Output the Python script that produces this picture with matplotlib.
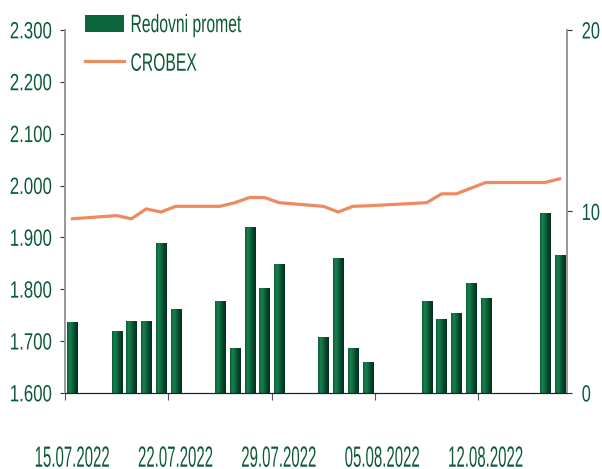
import matplotlib
matplotlib.use('Agg')
import matplotlib.pyplot as plt
import matplotlib.dates as mdates
from matplotlib.colors import LinearSegmentedColormap
from matplotlib.patheffects import AbstractPathEffect
from matplotlib.transforms import Affine2D
import numpy as np
import pandas as pd

plt.rcParams['font.family'] = ['Liberation Sans', 'DejaVu Sans']

dates = ['2022-07-15', '2022-07-18', '2022-07-19', '2022-07-20', '2022-07-21', '2022-07-22',
         '2022-07-25', '2022-07-26', '2022-07-27', '2022-07-28', '2022-07-29',
         '2022-08-01', '2022-08-02', '2022-08-03', '2022-08-04',
         '2022-08-08', '2022-08-09', '2022-08-10', '2022-08-11', '2022-08-12',
         '2022-08-16', '2022-08-17']
promet = [3.93, 3.42, 3.97, 3.97, 8.25, 4.61,
          5.09, 2.46, 9.13, 5.77, 7.11,
          3.10, 7.42, 2.46, 1.73,
          5.09, 4.08, 4.43, 6.08, 5.25,
          9.93, 7.60]
crobex = [1936, 1942, 1936, 1955, 1949, 1960,
          1960, 1967, 1977, 1977, 1967,
          1960, 1949, 1960, 1961,
          1967, 1984, 1984, 1995, 2006,
          2006, 2013]
label_dates = ['15.07.2022', '22.07.2022', '29.07.2022', '05.08.2022', '12.08.2022']

txt_col = '#0b5a36'
line_col = '#ee8a5f'
bar_grad = LinearSegmentedColormap.from_list(
    'bar', ['#0a5c36', '#17834f', '#0d653b', '#06432a', '#03301c'])


# the original uses a tall narrow font (Arial Narrow) -> stretch glyphs vertically
class Tall(AbstractPathEffect):
    def __init__(self, sy, anchor_y=0.5):
        super().__init__()
        self.sy = sy
        self.anchor_y = anchor_y

    def draw_path(self, renderer, gc, tpath, affine, rgbFace=None):
        m = affine.get_matrix().copy()
        h = tpath.get_extents().y1 * m[1, 1]
        m[1, 1] *= self.sy
        m[1, 2] -= (self.sy - 1) * h * self.anchor_y
        renderer.draw_path(gc, tpath, Affine2D(m), rgbFace)


x = mdates.date2num(pd.to_datetime(dates))
start = mdates.date2num(pd.Timestamp('2022-07-15'))
end = mdates.date2num(pd.Timestamp('2022-08-17'))

fig = plt.figure(figsize=(6.02, 4.69), dpi=100)
ax = fig.add_axes([65 / 602, 76 / 469, 502 / 602, 363 / 469])
ax2 = ax.twinx()

# bars (right axis) with a horizontal gradient like the excel original
w = 0.68
bars = ax2.bar(x, promet, width=w, color='#0d653b', linewidth=0, label='Redovni promet')
grad = np.linspace(0, 1, 64).reshape(1, -1)
for b in bars:
    bx, by = b.get_x(), b.get_y()
    im = ax2.imshow(grad, cmap=bar_grad, aspect='auto', interpolation='bicubic',
                    extent=[bx, bx + b.get_width(), by, by + b.get_height()], zorder=2)
    im.set_clip_path(b)
ax2.set_ylim(0, 20)
ax2.set_yticks([0, 10, 20])

ax.plot(x, crobex, color=line_col, lw=2.3, label='CROBEX', solid_joinstyle='round')
ax.set_ylim(1600, 2300)
ax.set_yticks(np.arange(1600, 2301, 100))
ax.set_yticklabels(['{:,}'.format(v).replace(',', '.') for v in range(1600, 2301, 100)])
ax.set_zorder(ax2.get_zorder() + 1)
ax.patch.set_visible(False)

ax.set_xlim(start - 0.5, end + 0.5)
ax.set_xticks([start - 0.5 + 7 * k for k in range(5)])
ax.set_xticklabels([])
ax.set_xticks([start + 7 * k for k in range(5)], minor=True)
ax.set_xticklabels(label_dates, minor=True)
ax.tick_params(axis='x', which='major', length=5, direction='out', color='#555555')
ax.tick_params(axis='x', which='minor', length=0, pad=38, labelsize=10.8, labelcolor=txt_col)
ax.tick_params(axis='y', length=3.6, color='#333333', labelsize=12.1, labelcolor=txt_col, pad=5.8)
ax2.tick_params(axis='y', length=3.6, color='#333333', labelsize=11.8, labelcolor=txt_col, pad=7)

plt.setp(ax.get_yticklabels(), path_effects=[Tall(1.4, 0.5)])
plt.setp(ax2.get_yticklabels(), path_effects=[Tall(1.43, 0.5)])
plt.setp(ax.get_xticklabels(minor=True), path_effects=[Tall(1.95, 1.0)])

for a in (ax, ax2):
    a.spines['top'].set_visible(False)
    a.spines['left'].set_color('#999999')
    a.spines['right'].set_color('#999999')
    a.spines['bottom'].set_color('#222222')
    a.spines['left'].set_linewidth(1.2)
    a.spines['right'].set_linewidth(1.2)

h1, l1 = ax2.get_legend_handles_labels()
h2, l2 = ax.get_legend_handles_labels()
leg = ax.legend(h1 + h2, l1 + l2, loc='upper left', bbox_to_anchor=(85 / 602, 1 - 15 / 469),
                bbox_transform=fig.transFigure, frameon=False, fontsize=11.3,
                handlelength=2.5, handleheight=1.27, handletextpad=0.4,
                labelspacing=1.4, borderpad=0, borderaxespad=0)
for t in leg.get_texts():
    t.set_color(txt_col)
    t.set_path_effects([Tall(1.6, 0.5)])

fig.savefig('out.png', dpi=100)
